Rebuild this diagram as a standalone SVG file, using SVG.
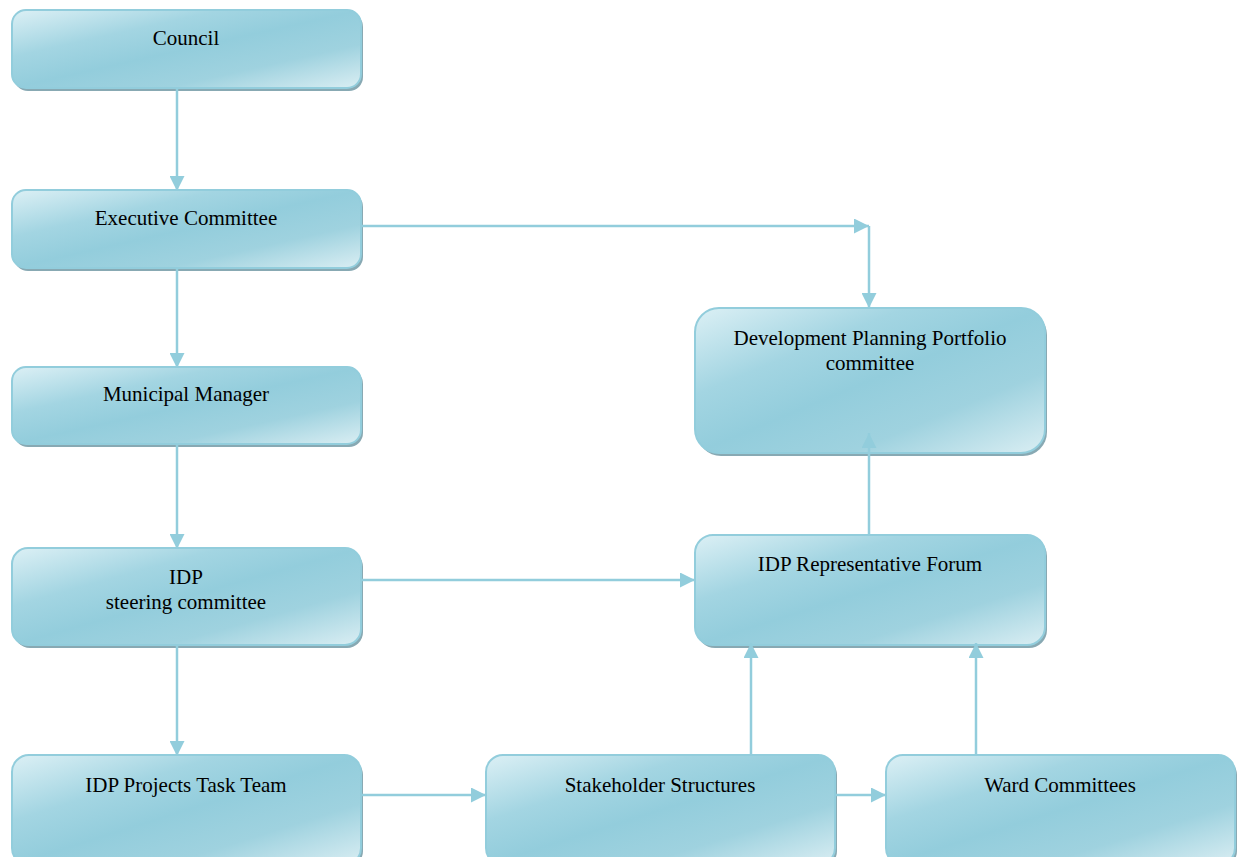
<svg xmlns="http://www.w3.org/2000/svg" width="1243" height="857" viewBox="0 0 1243 857">
<defs>
<linearGradient id="g" x1="0" y1="0" x2="1" y2="1">
<stop offset="0" stop-color="#dcf0f5"/>
<stop offset="0.3" stop-color="#a3d5e2"/>
<stop offset="0.5" stop-color="#93cddc"/>
<stop offset="0.72" stop-color="#9fd2df"/>
<stop offset="1" stop-color="#daeef3"/>
</linearGradient>
<marker id="ah" viewBox="0 0 10 10" refX="10" refY="5" markerWidth="6" markerHeight="6" markerUnits="strokeWidth" orient="auto">
<path d="M0,0 L10,5 L0,10 Z" fill="#92cddc"/>
</marker>
<style>
.sh{fill:#88a9b3;}
.bx{fill:url(#g);stroke:#92cddc;stroke-width:2;}
.t{font-family:"Liberation Serif","DejaVu Serif",serif;font-size:21px;fill:#000;text-anchor:middle;}
.ca{stroke:#92cddc;stroke-width:2.5;fill:none;marker-end:url(#ah);}
</style>
</defs>
<rect width="1243" height="857" fill="#fff"/>
<g id="council">
<rect class="sh" x="14" y="13" width="349" height="78" rx="14"/>
<rect class="bx" x="12" y="10" width="349" height="78" rx="14"/>
<text class="t" x="186" y="45">Council</text>
</g>
<g id="executive-committee">
<rect class="sh" x="14" y="193" width="349" height="78" rx="14"/>
<rect class="bx" x="12" y="190" width="349" height="78" rx="14"/>
<text class="t" x="186" y="225">Executive Committee</text>
</g>
<g id="municipal-manager">
<rect class="sh" x="14" y="370" width="349" height="77" rx="14"/>
<rect class="bx" x="12" y="367" width="349" height="77" rx="14"/>
<text class="t" x="186" y="401">Municipal Manager</text>
</g>
<g id="idp-steering-committee">
<rect class="sh" x="14" y="551" width="349" height="97" rx="16"/>
<rect class="bx" x="12" y="548" width="349" height="97" rx="16"/>
<text class="t" x="186" y="584">IDP</text>
<text class="t" x="186" y="609">steering committee</text>
</g>
<g id="idp-projects-task-team">
<rect class="sh" x="14" y="758" width="349" height="110" rx="17"/>
<rect class="bx" x="12" y="755" width="349" height="110" rx="17"/>
<text class="t" x="186" y="792">IDP Projects Task Team</text>
</g>
<g id="stakeholder-structures">
<rect class="sh" x="488" y="758" width="349" height="110" rx="17"/>
<rect class="bx" x="486" y="755" width="349" height="110" rx="17"/>
<text class="t" x="660" y="792">Stakeholder Structures</text>
</g>
<g id="ward-committees">
<rect class="sh" x="888" y="758" width="349" height="110" rx="17"/>
<rect class="bx" x="886" y="755" width="349" height="110" rx="17"/>
<text class="t" x="1060" y="792">Ward Committees</text>
</g>
<g id="development-planning-portfolio-committee">
<rect class="sh" x="697" y="311" width="350" height="145" rx="24"/>
<rect class="bx" x="695" y="308" width="350" height="145" rx="24"/>
<text class="t" x="870" y="345">Development Planning Portfolio</text>
<text class="t" x="870" y="370">committee</text>
</g>
<g id="idp-representative-forum">
<rect class="sh" x="697" y="538" width="350" height="110" rx="18"/>
<rect class="bx" x="695" y="535" width="350" height="110" rx="18"/>
<text class="t" x="870" y="571">IDP Representative Forum</text>
</g>
<g id="connectors">
<line class="ca" x1="177" y1="89" x2="177" y2="191"/>
<line class="ca" x1="177" y1="269" x2="177" y2="368"/>
<line class="ca" x1="177" y1="445" x2="177" y2="549"/>
<line class="ca" x1="177" y1="646" x2="177" y2="756"/>
<line class="ca" x1="362" y1="226" x2="869" y2="226"/>
<line class="ca" x1="869" y1="226" x2="869" y2="308"/>
<line class="ca" x1="362" y1="580" x2="695" y2="580"/>
<line class="ca" x1="869" y1="534" x2="869" y2="433"/>
<line class="ca" x1="751" y1="754" x2="751" y2="643"/>
<line class="ca" x1="976" y1="754" x2="976" y2="643"/>
<line class="ca" x1="362" y1="795" x2="486" y2="795"/>
<line class="ca" x1="836" y1="795" x2="886" y2="795"/>
</g>
</svg>
